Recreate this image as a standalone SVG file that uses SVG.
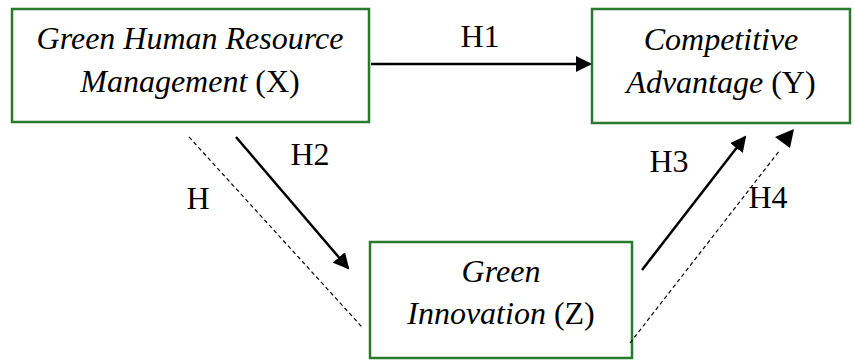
<svg xmlns="http://www.w3.org/2000/svg" width="855" height="360" viewBox="0 0 855 360">
<style>
.box{fill:#fff;stroke:#2a7a2e;stroke-width:2.5}
.t{font-family:"Liberation Serif","Times New Roman",serif;font-size:32px;fill:#000;text-anchor:middle}
.i{font-style:italic}
.solid{stroke:#000;stroke-width:2.5;fill:none}
.dash{stroke:#000;stroke-width:1.2;fill:none;stroke-dasharray:4 3}
</style>
<defs>
<marker id="ahL" markerWidth="16" markerHeight="16" refX="14" refY="8" orient="auto" markerUnits="userSpaceOnUse" viewBox="0 0 16 16">
<path d="M0,0 L16,8 L0,16 z" fill="#000"/>
</marker>
</defs>
<g id="nodeX">
<rect class="box" x="12" y="9" width="357" height="113"/>
<text class="t" x="190" y="49"><tspan class="i">Green Human Resource</tspan></text>
<text class="t" x="190" y="92"><tspan class="i">Management</tspan> (X)</text>
</g>
<g id="nodeY">
<rect class="box" x="592" y="9" width="258" height="114"/>
<text class="t" x="721" y="50"><tspan class="i">Competitive</tspan></text>
<text class="t" x="721" y="93"><tspan class="i">Advantage</tspan> (Y)</text>
</g>
<g id="nodeZ">
<rect class="box" x="370" y="242" width="262" height="116"/>
<text class="t" x="501" y="282"><tspan class="i">Green</tspan></text>
<text class="t" x="501" y="324"><tspan class="i">Innovation</tspan> (Z)</text>
</g>
<g id="connectors">
<line class="solid" x1="371" y1="64" x2="590" y2="64" marker-end="url(#ahL)"/>
<line class="solid" x1="236" y1="137" x2="348" y2="268" marker-end="url(#ahL)"/>
<line class="dash" x1="189" y1="137" x2="362" y2="327"/>
<line class="solid" x1="642" y1="270" x2="745" y2="137" marker-end="url(#ahL)"/>
<line class="dash" x1="630" y1="343" x2="780" y2="150"/>
<path d="M794,129 L790,148 L775,137 z" fill="#000"/>
<text class="t" x="480" y="47">H1</text>
<text class="t" x="310" y="165">H2</text>
<text class="t" x="198" y="209">H</text>
<text class="t" x="669" y="172">H3</text>
<text class="t" x="768" y="208">H4</text>
</g>
</svg>
